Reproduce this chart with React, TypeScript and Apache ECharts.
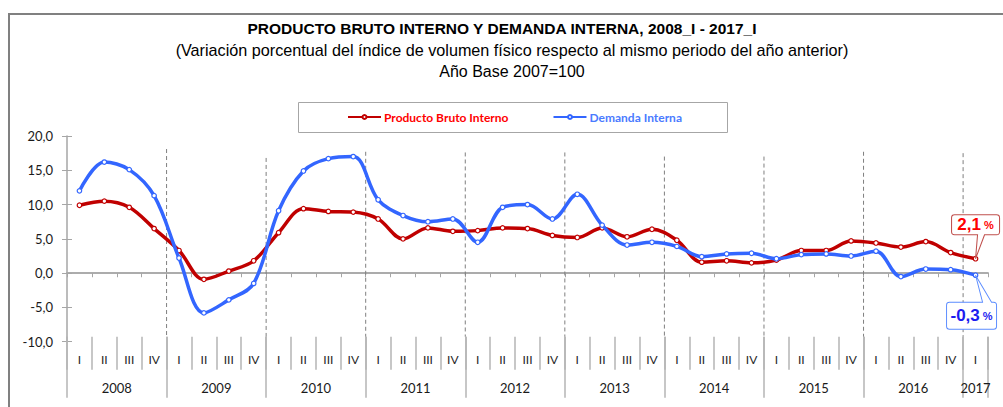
import React, { useEffect, useRef } from 'react';
import * as echarts from 'echarts';

const years = ['2008', '2009', '2010', '2011', '2012', '2013', '2014', '2015', '2016', '2017'];
const quartersPerYear = [4, 4, 4, 4, 4, 4, 4, 4, 4, 1];
const quarterNames = ['I', 'II', 'III', 'IV'];

const pbi = [
  9.9, 10.5, 9.6, 6.5,
  3.3, -0.9, 0.3, 1.8,
  5.9, 9.4, 9.0, 8.9,
  7.9, 5.0, 6.6, 6.1,
  6.2, 6.6, 6.5, 5.5,
  5.2, 6.6, 5.3, 6.4,
  4.8, 1.6, 1.8, 1.5,
  1.9, 3.3, 3.3, 4.7,
  4.4, 3.8, 4.6, 3.0,
  2.1,
];
const demanda = [
  12.0, 16.2, 15.1, 11.3,
  2.2, -5.8, -3.9, -1.5,
  9.1, 14.9, 16.7, 17.0,
  10.7, 8.4, 7.5, 7.9,
  4.5, 9.6, 10.0, 7.9,
  11.5, 7.0, 4.1, 4.5,
  3.9, 2.4, 2.8, 2.9,
  2.1, 2.7, 2.8, 2.5,
  3.2, -0.5, 0.6, 0.5,
  -0.3,
];
// top of the dashed year separators (in axis units)
const dividerTops = [18.1, 16.8, 17.7, 17.6, 17.6, 17.0, 17.0, 17.7, 17.5];

const yMin = -10;
const yMax = 20;
const yStep = 5;

const titleText = 'PRODUCTO BRUTO INTERNO Y DEMANDA INTERNA, 2008_I - 2017_I';
const subtitleText = '(Variación porcentual del índice de volumen físico respecto al mismo periodo del año anterior)';
const baseText = 'Año Base 2007=100';
const pbiName = 'Producto Bruto Interno';
const demName = 'Demanda Interna';

// derived categories
const quarterIds: string[] = [];
const yearStarts: number[] = [];
years.forEach((y, i) => {
  yearStarts.push(quarterIds.length);
  for (let q = 0; q < quartersPerYear[i]; q++) quarterIds.push(y + ' ' + quarterNames[q]);
});
const total = quarterIds.length;
const yearEnds = yearStarts.map((s, i) => s + quartersPerYear[i]);
const yearTicks = [...yearStarts, total];
const yearLabelPos = yearStarts.map((s, i) => (s + yearEnds[i]) / 2);
const dividerX = yearStarts.slice(1);

const fmt = (v: number) => v.toFixed(1).replace('.', ',');

const RED = '#c00000';
const BLUE = '#3366ff';
const AXIS = '#a6a6a6';
const FONT = 'Lato';
const ARIAL = '"Liberation Sans", Arial, sans-serif';

const redCallout = 'path://M3,0 L45,0 Q48,0 48,3 L48,17 Q48,20 45,20 L33,20 L24,44 L26,20 L3,20 Q0,20 0,17 L0,3 Q0,0 3,0 Z';
const blueCallout = 'path://M3,27 L36,27 L29,0 L45,27 L47,27 Q50,27 50,30 L50,51 Q50,54 47,54 L3,54 Q0,54 0,51 L0,30 Q0,27 3,27 Z';

function buildOption(): any {
  const last = total - 1;
  return {
    animation: false,
    textStyle: { fontFamily: FONT },
    grid: {
      left: 67,
      right: 15,
      top: 136,
      bottom: 65.3,
      containLabel: false,
      outerBoundsMode: 'none',
    },
    graphic: [
      {
        type: 'rect',
        z: 0,
        shape: { x: 9, y: 14, width: 1200, height: 800 },
        style: { fill: 'none', stroke: '#808080', lineWidth: 2 },
      },
      {
        type: 'rect',
        z: 0,
        shape: { x: 298.5, y: 102.5, width: 429, height: 30 },
        style: { fill: '#fff', stroke: '#a6a6a6', lineWidth: 1 },
      },
      {
        type: 'text',
        x: 502,
        y: 28,
        style: { text: titleText, font: 'bold 15.5px ' + ARIAL, fill: '#000', align: 'center', verticalAlign: 'middle' },
      },
      {
        type: 'text',
        x: 512,
        y: 49.5,
        style: { text: subtitleText, font: '16.2px ' + ARIAL, fill: '#000', align: 'center', verticalAlign: 'middle' },
      },
      {
        type: 'text',
        x: 512,
        y: 71.5,
        style: { text: baseText, font: '16px ' + ARIAL, fill: '#000', align: 'center', verticalAlign: 'middle' },
      },
    ],
    legend: {
      left: 347,
      top: 111,
      padding: 0,
      itemWidth: 33,
      itemHeight: 5,
      itemGap: 44,
      textStyle: { fontFamily: FONT, fontWeight: 'bold', fontSize: 12, padding: [0, 0, 0, -2] },
      data: [
        { name: pbiName, textStyle: { color: '#ff0000' } },
        { name: demName, textStyle: { color: '#4a7bff' } },
      ],
    },
    xAxis: [
      {
        type: 'category',
        data: quarterIds,
        boundaryGap: true,
        axisLine: { onZero: true, lineStyle: { color: AXIS, width: 1.5 } },
        axisTick: { show: true, interval: 0, length: 4, lineStyle: { color: AXIS } },
        axisLabel: { show: false },
        splitLine: { show: false },
      },
      {
        type: 'category',
        data: quarterIds,
        boundaryGap: true,
        axisLine: { onZero: true, lineStyle: { color: AXIS, width: 1.5 } },
        axisTick: { show: true, inside: true, interval: 0, length: 4, lineStyle: { color: AXIS } },
        axisLabel: { show: false },
        splitLine: { show: false },
      },
      {
        type: 'category',
        data: quarterIds,
        boundaryGap: true,
        position: 'bottom',
        offset: -5,
        axisLine: { show: false, onZero: false },
        axisTick: { show: true, interval: 0, length: 33, lineStyle: { color: '#b4b4b4', width: 1.5 } },
        axisLabel: {
          interval: 0,
          margin: 17,
          fontSize: 12,
          lineHeight: 12,
          color: '#262626',
          fontFamily: FONT,
          formatter: (v: string) => v.split(' ')[1],
        },
        splitLine: { show: false },
      },
      {
        type: 'value',
        min: 0,
        max: total,
        position: 'bottom',
        offset: -5,
        axisLine: { show: false, onZero: false },
        axisTick: { show: true, customValues: yearTicks, length: 61, lineStyle: { color: '#b4b4b4', width: 1.5 } },
        axisLabel: {
          customValues: yearLabelPos,
          margin: 45,
          fontSize: 13,
          lineHeight: 13,
          color: '#1a1a1a',
          fontFamily: FONT,
          formatter: (v: number) => {
            const i = yearLabelPos.indexOf(v);
            return i >= 0 ? years[i] : '';
          },
        },
        splitLine: { show: false },
      },
    ],
    yAxis: [
      {
        type: 'value',
        min: yMin,
        max: yMax,
        interval: yStep,
        axisLine: { show: true, lineStyle: { color: AXIS, width: 1.5 } },
        axisTick: { show: true, length: 5, lineStyle: { color: AXIS } },
        axisLabel: { margin: 14, fontSize: 13, color: '#1a1a1a', fontFamily: FONT, formatter: (v: number) => fmt(v) },
        splitLine: { show: false },
      },
      {
        type: 'value',
        min: yMin,
        max: yMax,
        interval: yStep,
        position: 'left',
        axisLine: { show: false },
        axisTick: { show: true, inside: true, length: 5, lineStyle: { color: AXIS } },
        axisLabel: { show: false },
        splitLine: { show: false },
      },
    ],
    series: [
      {
        type: 'custom',
        name: 'dividers',
        xAxisIndex: 3,
        yAxisIndex: 0,
        silent: true,
        z: 1,
        data: dividerX.map((x, i) => [x, dividerTops[i]]),
        renderItem: (params: any, api: any) => {
          const x = api.value(0);
          const top = api.value(1);
          const p1 = api.coord([x, top]);
          const p0 = api.coord([x, yMin]);
          return {
            type: 'line',
            shape: { x1: p1[0], y1: p1[1], x2: p0[0], y2: p0[1] - 5 },
            style: { stroke: '#7f7f7f', lineWidth: 1, lineDash: [4, 3] },
          };
        },
      },
      {
        type: 'line',
        name: pbiName,
        xAxisIndex: 0,
        yAxisIndex: 0,
        data: pbi,
        smooth: 0.35,
        z: 3,
        symbol: 'circle',
        symbolSize: 4.5,
        showSymbol: true,
        lineStyle: { color: RED, width: 3.5 },
        itemStyle: { color: '#ffffff', borderColor: RED, borderWidth: 1.2 },
        markPoint: {
          symbol: redCallout,
          symbolSize: [48, 44],
          symbolOffset: [0, -22],
          itemStyle: { color: '#ffffff', borderColor: '#c0504d', borderWidth: 1 },
          label: {
            show: true,
            position: 'inside',
            offset: [0, -12],
            formatter: () => `{a|${fmt(pbi[last])}}{b| %}`,
            rich: {
              a: { fontFamily: ARIAL, fontWeight: 'bold', fontSize: 17, color: '#ff0000' },
              b: { fontFamily: ARIAL, fontWeight: 'bold', fontSize: 11, color: '#ff0000' },
            },
          },
          data: [{ coord: [last, pbi[last]] }],
        },
      },
      {
        type: 'line',
        name: demName,
        xAxisIndex: 0,
        yAxisIndex: 0,
        data: demanda,
        smooth: 0.35,
        z: 4,
        symbol: 'circle',
        symbolSize: 4.5,
        showSymbol: true,
        lineStyle: { color: BLUE, width: 3.5 },
        itemStyle: { color: '#ffffff', borderColor: BLUE, borderWidth: 1.2 },
        markPoint: {
          symbol: blueCallout,
          symbolSize: [50, 54],
          symbolOffset: [-4, 27],
          itemStyle: { color: '#ffffff', borderColor: '#5b8cff', borderWidth: 1 },
          label: {
            show: true,
            position: 'inside',
            offset: [0, 13.5],
            formatter: () => `{a|${fmt(demanda[last])}}{b| %}`,
            rich: {
              a: { fontFamily: ARIAL, fontWeight: 'bold', fontSize: 17, color: '#1c1cf0' },
              b: { fontFamily: ARIAL, fontWeight: 'bold', fontSize: 11, color: '#1c1cf0' },
            },
          },
          data: [{ coord: [last, demanda[last]] }],
        },
      },
    ],
  };
}

export default function App() {
  const ref = useRef<HTMLDivElement>(null);
  useEffect(() => {
    if (!ref.current) return;
    const chart = echarts.init(ref.current, null, { renderer: 'svg' });
    chart.setOption(buildOption());
    return () => chart.dispose();
  }, []);
  return (
    <div
      ref={ref}
      style={{ position: 'fixed', left: 0, top: 0, width: 1003, height: 407, background: '#fff' }}
    />
  );
}
